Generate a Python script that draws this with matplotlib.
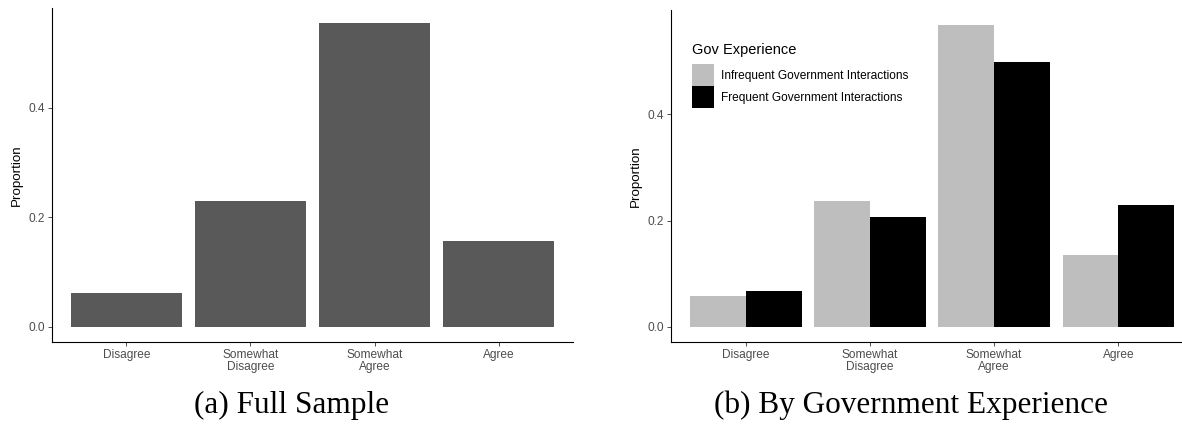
import matplotlib
matplotlib.use("Agg")

import matplotlib.pyplot as plt
from matplotlib.patches import Patch
import numpy as np

# response categories and proportions
categories = ["Disagree", "Somewhat\nDisagree", "Somewhat\nAgree", "Agree"]
full_sample = [0.061, 0.230, 0.554, 0.156]
infrequent = [0.059, 0.237, 0.568, 0.136]
frequent = [0.067, 0.207, 0.498, 0.229]
group_labels = ["Infrequent Government Interactions",
	"Frequent Government Interactions"]
captions = ["(a) Full Sample", "(b) By Government Experience"]

plt.rcParams["font.family"] = ["Liberation Sans", "DejaVu Sans"]

W, H = 1182, 447
fig = plt.figure(figsize=(W / 100, H / 100), dpi=100)

def px_axes(left, top, right, bottom):
	# place an axes from pixel edges (may run past the canvas)
	return fig.add_axes([left / W, 1 - bottom / H, (right - left) / W,
		(bottom - top) / H])

def style(ax, ymax):
	# ggplot theme_classic look
	for s in ["top", "right"]:
		ax.spines[s].set_visible(False)
	for s in ["left", "bottom"]:
		ax.spines[s].set_linewidth(0.8)
		ax.spines[s].set_color("black")
	ax.set_xlim(0.4, 4.6)
	ax.set_ylim(-0.05 * ymax, ymax * 1.05)
	ax.set_yticks([0.0, 0.2, 0.4])
	ax.set_yticklabels(["0.0", "0.2", "0.4"])
	ax.set_xticks(np.arange(1, 5))
	ax.set_xticklabels(categories, linespacing=1.0)
	ax.tick_params(axis="both", colors="#333333", labelcolor="#4D4D4D",
		labelsize=8.6, length=3, width=0.6, pad=2)
	ax.set_ylabel("Proportion", fontsize=9.6, color="black", labelpad=4)

x = np.arange(1, 5)

# left panel: full sample
ax1 = px_axes(52, 8, 573, 342)
ax1.bar(x, full_sample, width=0.9, color="#595959")
style(ax1, max(full_sample))

# right panel: split by government experience
ax2 = px_axes(671, 10, 1193, 342)
ax2.bar(x - 0.225, infrequent, width=0.45, color="#BEBEBE")
ax2.bar(x + 0.225, frequent, width=0.45, color="black")
style(ax2, max(infrequent + frequent))

handles = [Patch(facecolor="#BEBEBE", edgecolor="none"),
	Patch(facecolor="black", edgecolor="none")]
leg = ax2.legend(handles, group_labels, title="Gov Experience",
	loc="upper left", bbox_to_anchor=(0.040, 0.90), frameon=False,
	fontsize=8.6, title_fontsize=10.5, handlelength=1.85, handleheight=2.4,
	handletextpad=0.55, labelspacing=0.05, borderpad=0, borderaxespad=0,
	alignment="left")
# a bit more room between the title and the keys, as ggplot does
leg._legend_box.sep = 5

# subfigure captions
fig.text(292 / W, 1 - 405 / H, captions[0], ha="center", va="center",
	fontsize=22.5, family="Liberation Serif")
fig.text(911 / W, 1 - 405 / H, captions[1], ha="center", va="center",
	fontsize=22.5, family="Liberation Serif")

fig.savefig("out.png", dpi=100)
